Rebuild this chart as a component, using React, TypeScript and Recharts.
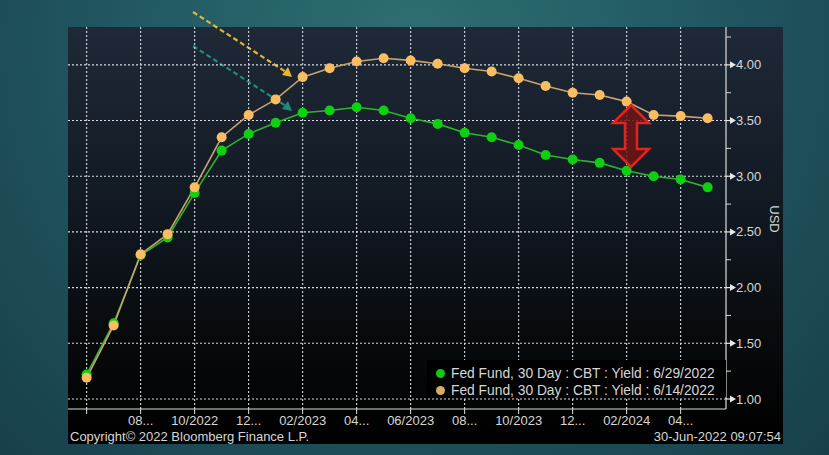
import { LineChart, Line, XAxis, YAxis, CartesianGrid } from 'recharts';

const months = [
  '06/2022', '07/2022', '08/2022', '09/2022', '10/2022', '11/2022', '12/2022',
  '01/2023', '02/2023', '03/2023', '04/2023', '05/2023', '06/2023', '07/2023',
  '08/2023', '09/2023', '10/2023', '11/2023', '12/2023', '01/2024', '02/2024',
  '03/2024', '04/2024', '05/2024',
];
const yield0629 = [
  1.22, 1.68, 2.29, 2.45, 2.85, 3.23, 3.38, 3.48, 3.57, 3.59, 3.62, 3.59,
  3.52, 3.47, 3.39, 3.35, 3.28, 3.19, 3.15, 3.12, 3.05, 3.0, 2.97, 2.9,
];
const yield0614 = [
  1.19, 1.66, 2.3, 2.48, 2.9, 3.35, 3.55, 3.69, 3.89, 3.97, 4.03, 4.06,
  4.04, 4.01, 3.97, 3.94, 3.88, 3.81, 3.75, 3.73, 3.67, 3.55, 3.54, 3.52,
];
const xTicks = [0, 2, 4, 6, 8, 10, 12, 14, 16, 18, 20, 22];
const xTickLabels = ['', '08...', '10/2022', '12...', '02/2023', '04...', '06/2023', '08...', '10/2023', '12...', '02/2024', '04...'];
const yMajor = [1, 1.5, 2, 2.5, 3, 3.5, 4];
const yTicks = [1, 1.25, 1.5, 1.75, 2, 2.25, 2.5, 2.75, 3, 3.25, 3.5, 3.75, 4, 4.25];
const series = [
  { key: 'y0629', name: 'Fed Fund, 30 Day : CBT : Yield : 6/29/2022', line: '#2cb42c', dot: '#0fd00f', swatch: '#12c812' },
  { key: 'y0614', name: 'Fed Fund, 30 Day : CBT : Yield : 6/14/2022', line: '#c9a270', dot: '#fbbd62', swatch: '#d8ac68' },
];

const data = months.map((m, i) => ({ i, month: m, y0629: yield0629[i], y0614: yield0614[i] }));

const FONT = '"Liberation Sans", Arial, sans-serif';
const TXT = '#d6d6d6';

const YTick = (props: any) => {
  const { x, y, payload } = props;
  const v = payload.value;
  const major = yMajor.some((m) => Math.abs(m - v) < 1e-6);
  if (!major) {
    return <line x1={x} y1={y} x2={x + 5} y2={y} stroke="#d8d8d8" strokeWidth={1} />;
  }
  return (
    <g>
      <line x1={x} y1={y} x2={x + 5} y2={y} stroke="#e8e8e8" strokeWidth={1.2} />
      <path d={`M${x + 4},${y - 3.5} L${x + 10},${y} L${x + 4},${y + 3.5} Z`} fill="#e8e8e8" />
      <text x={x + 10} y={y} dy="0.35em" fill={TXT} fontSize={13} fontFamily={FONT}>
        {v.toFixed(2)}
      </text>
    </g>
  );
};

export default function App() {
  return (
    <div
      style={{
        position: 'relative',
        width: 829,
        height: 455,
        overflow: 'hidden',
        background: 'radial-gradient(ellipse at 50% 10%, #2f6e72 0%, #225a64 45%, #173f4b 100%)',
        fontFamily: FONT,
      }}
    >
      <style>{`body{margin:0}`}</style>
      <div
        style={{
          position: 'absolute',
          left: 68,
          top: 27,
          width: 715,
          height: 417,
          background: 'linear-gradient(to bottom, #1f2937 0%, #121a24 40%, #060809 80%, #000 100%)',
        }}
      />

      {/* dashed pointer arrows, under the series */}
      <svg width={829} height={455} style={{ position: 'absolute', left: 0, top: 0, pointerEvents: 'none' }}>
        <line x1={193} y1={12} x2={286} y2={72} stroke="#e8b234" strokeWidth={2.2} strokeDasharray="5 3" />
        <path d="M292,77 L282,75 L288,67 Z" fill="#e8b234" />
        <line x1={193} y1={46} x2={286} y2={106} stroke="#1f8c78" strokeWidth={2.2} strokeDasharray="5 3" />
        <path d="M292,111 L282,109 L288,101 Z" fill="#1f8c78" />
      </svg>

      <div style={{ position: 'absolute', left: 0, top: 0 }}>
        <LineChart width={829} height={455} data={data} margin={{ top: 27, right: 46, bottom: 26, left: 68 }}>
          <CartesianGrid
            stroke="#d8dce2"
            strokeDasharray="2 2"
            strokeWidth={1.1}
            horizontalValues={yMajor}
            verticalValues={xTicks}
          />
          <XAxis
            dataKey="i"
            type="number"
            domain={[-0.69, 23.68]}
            ticks={xTicks}
            interval={0}
            tickFormatter={(v: number) => xTickLabels[xTicks.indexOf(v)] ?? ''}
            tick={{ fill: TXT, fontSize: 13, fontFamily: FONT }}
            axisLine={{ stroke: '#dcdcdc', strokeWidth: 1.2 }}
            tickLine={{ stroke: '#dcdcdc' }}
            tickSize={5}
            tickMargin={2}
            height={20}
            allowDataOverflow
          />
          <YAxis
            orientation="right"
            domain={[0.91, 4.34]}
            ticks={yTicks}
            interval={0}
            tick={<YTick />}
            tickLine={false}
            tickSize={0}
            tickMargin={0}
            axisLine={{ stroke: '#dcdcdc', strokeWidth: 1.2 }}
            width={57}
            allowDataOverflow
          />
          {series.map((s) => (
            <Line
              key={s.key}
              dataKey={s.key}
              name={s.name}
              type="linear"
              stroke={s.line}
              strokeWidth={1.6}
              dot={{ r: 5, fill: s.dot, stroke: 'none' }}
              activeDot={false}
              isAnimationActive={false}
            />
          ))}
        </LineChart>
      </div>

      {/* legend box */}
      <div
        style={{
          position: 'absolute',
          left: 427,
          top: 360,
          width: 299,
          height: 37,
          background: '#000',
        }}
      >
        {series.map((s, k) => (
          <div
            key={s.key}
            style={{
              position: 'absolute',
              left: 9,
              top: 5 + k * 17,
              height: 17,
              display: 'flex',
              alignItems: 'center',
              whiteSpace: 'nowrap',
              color: TXT,
              fontSize: 13.8,
            }}
          >
            <span
              style={{
                display: 'inline-block',
                width: 9,
                height: 9,
                borderRadius: '50%',
                background: s.swatch,
                marginRight: 6,
              }}
            />
            {s.name}
          </div>
        ))}
      </div>

      {/* spread marker and footer texts */}
      <svg width={829} height={455} style={{ position: 'absolute', left: 0, top: 0, pointerEvents: 'none' }}>
        <polygon
          points="631,105 649,123 637,123 637,149 649,149 631,167 613,149 625,149 625,123 613,123"
          fill="rgba(110,20,20,0.85)"
          stroke="#e0251e"
          strokeWidth={2.5}
          strokeLinejoin="miter"
        />
        <text
          x={774}
          y={219}
          transform="rotate(90 774 219)"
          textAnchor="middle"
          dominantBaseline="central"
          fill={TXT}
          fontSize={13}
          fontFamily={FONT}
        >
          USD
        </text>
        <text x={70} y={441} fill={TXT} fontSize={13} fontFamily={FONT}>
          Copyright© 2022 Bloomberg Finance L.P.
        </text>
        <text x={781} y={441} textAnchor="end" fill={TXT} fontSize={13} fontFamily={FONT}>
          30-Jun-2022 09:07:54
        </text>
      </svg>
    </div>
  );
}
